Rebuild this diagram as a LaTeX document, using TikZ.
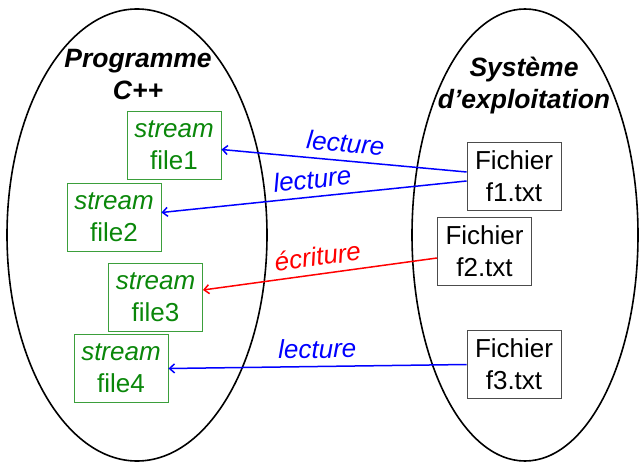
\documentclass[tikz,border=0pt]{standalone}
\usepackage{fontspec}
\setmainfont{Liberation Sans}
\usetikzlibrary{arrows.meta}
\definecolor{fluxvert}{RGB}{10,135,10}

\tikzset{
	flux/.style={draw=fluxvert!80, text=fluxvert, line width=0.9pt, align=center, minimum width=94pt, minimum height=68pt, inner sep=1pt, font=\fontsize{26}{32}\selectfont},
	fichier/.style={draw=black!70, line width=0.9pt, align=center, minimum width=94pt, minimum height=68pt, inner sep=1pt, font=\fontsize{26}{32}\selectfont},
	titre/.style={align=center, font=\fontsize{26.5}{32}\selectfont\bfseries\itshape},
	acces/.style={line width=1.5pt, -{Straight Barb[length=5pt,width=9pt]}},
	etiq/.style={midway, above=4pt, sloped, font=\fontsize{26}{30}\selectfont\itshape}
}

\begin{document}
\begin{tikzpicture}[x=1pt, y=-1pt]
	\useasboundingbox (0,0) rectangle (639,462);
	\draw [line width=1.6pt] (137,235) ellipse [x radius=130, y radius=226];
	\draw [line width=1.6pt] (525,235) ellipse [x radius=113, y radius=226];
	\node [titre] (prog) at (138,75) {Programme\\C++};
	\node [titre] (os) at (524,86) {Système\\d’exploitation};
	\node [flux] (s1) at (174,145.5) {\textit{stream}\\file1};
	\node [flux] (s2) at (114,217.5) {\textit{stream}\\file2};
	\node [flux] (s3) at (155.5,297) {\textit{stream}\\file3};
	\node [flux] (s4) at (121,368.5) {\textit{stream}\\file4};
	\node [fichier] (f1) at (514,176) {Fichier\\f1.txt};
	\node [fichier] (f2) at (484.5,251.5) {Fichier\\f2.txt};
	\node [fichier] (f3) at (514,364.5) {Fichier\\f3.txt};
	\draw [acces, blue] ([yshift=4pt]f1.west) -- node [etiq] {lecture} ([yshift=-4pt]s1.east);
	\draw [acces, blue] ([yshift=-5pt]f1.west) -- node [etiq] {lecture} ([yshift=5pt]s2.east);
	\draw [acces, red] ([yshift=-6.5pt]f2.west) -- node [etiq] {écriture} ([yshift=7pt]s3.east);
	\draw [acces, blue] (f3.west) -- node [etiq] {lecture} (s4.east);
\end{tikzpicture}
\end{document}
